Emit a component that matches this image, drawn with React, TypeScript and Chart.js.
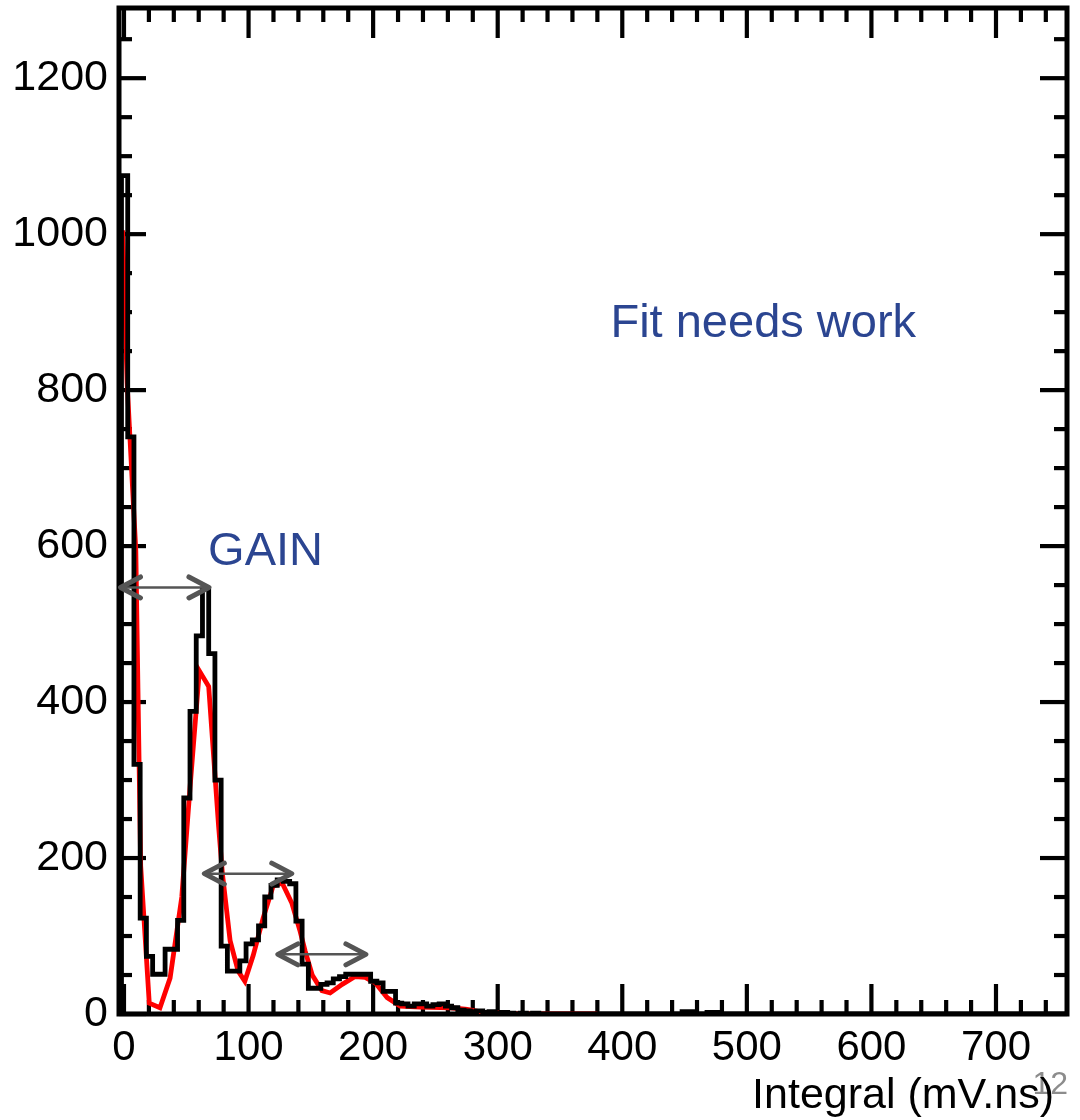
import { useEffect, useRef } from 'react';
import { Chart, registerables } from 'chart.js';

Chart.register(...registerables);

// ---------- data ----------
const BIN_START = -2;
const BIN_WIDTH = 5;
const counts: number[] = [
  1075, 740, 320, 123, 74, 51, 51, 83, 83, 120,
  277, 388, 485, 545, 462, 300, 87, 55, 55, 68,
  90, 95, 113, 150, 165, 172, 170, 167, 119, 64,
  33, 33, 38, 40, 45, 48, 51, 51, 51, 51,
  42, 40, 29, 29, 14, 13, 10, 13, 13, 10,
  12, 13, 10, 8, 5, 4, 3, 4, 2, 3,
  1, 2, 1, 0, 1, 0, 1, 0, 0, 0,
  0, 0, 0, 0, 0, 0, 0, 0, 0, 0,
  0, 0, 0, 0, 0, 0, 0, 0, 0, 0,
  3, 3, 0, 0, 2, 2, 0, 0, 0, 0,
  0, 0, 0, 0, 0, 0, 0, 0, 0, 0,
  0, 0, 0, 0, 0, 0, 0, 0, 0, 0,
  0, 0, 0, 0, 0, 0, 0, 0, 0, 0,
  0, 0, 0, 0, 0, 0, 0, 0, 0, 0,
  0, 0, 0, 0, 0, 0, 0, 0, 0, 0,
  0, 0,
];

const fitX = [-1, 2.5, 9.5, 13.4, 20.3, 28.9, 37.0, 46.4, 53.0, 60.5, 68.0, 76.0, 79.0, 85.2, 91.6, 97.0, 103.7, 111.7, 119.7, 127.0, 134.8, 141.4, 145.4, 151.1, 158.9, 165.5, 175.2, 185.6, 193.6, 201.7, 211.3, 221.8, 237.9, 262.0, 275.6, 288.5, 315.8, 380.0];
const fitY = [1005, 810, 594, 190, 14, 8, 46, 150, 290, 440, 420, 240, 180, 94, 55, 42, 75, 123, 164, 168, 142, 106, 81, 50, 30, 27, 38, 48, 47, 40, 21, 10, 9, 8, 6, 2, 0.5, 0];

const X_MIN = -4;
const X_MAX = 757;
const Y_MIN = 0;
const Y_MAX = 1290;
const X_MAJOR = 100;
const X_MINOR = 20;
const Y_MAJOR = 200;
const Y_MINOR = 50;

// gain arrows: [xFrom, xTo, y] in data units
const arrowsX1 = [-3.6, 63.7, 122.7];
const arrowsX2 = [69, 135.5, 195];
const arrowsY = [547, 180, 76.5];

const xTitle = 'Integral (mV.ns)';
const gainLabel = { text: 'GAIN', x: 67.5, y: 576 };
const noteLabel = { text: 'Fit needs work', x: 390.5, y: 868 };
const pageNumber = '12';

const FONT = '"Liberation Sans", Arial, Helvetica, sans-serif';
const BLUE = '#2B4591';

function buildHistPoints() {
  const pts: { x: number; y: number }[] = [];
  pts.push({ x: BIN_START, y: 0 });
  counts.forEach((c, i) => pts.push({ x: BIN_START + i * BIN_WIDTH, y: c }));
  pts.push({ x: BIN_START + counts.length * BIN_WIDTH, y: 0 });
  return pts;
}

const frameTicks = {
  id: 'frameTicks',
  beforeDatasetsDraw(chart: any) {
    const { ctx, chartArea: a, scales } = chart;
    const xs = scales.x;
    const ys = scales.y;
    ctx.save();
    ctx.strokeStyle = '#000';
    ctx.lineCap = 'butt';
    ctx.lineWidth = 4.2;
    const seg = (x1: number, y1: number, x2: number, y2: number) => {
      ctx.beginPath();
      ctx.moveTo(x1, y1);
      ctx.lineTo(x2, y2);
      ctx.stroke();
    };
    for (let v = 0; v <= X_MAX; v += X_MINOR) {
      const px = xs.getPixelForValue(v);
      const len = v % X_MAJOR === 0 ? 30 : 14;
      seg(px, a.bottom, px, a.bottom - len);
      seg(px, a.top, px, a.top + len);
    }
    for (let v = 0; v <= Y_MAX; v += Y_MINOR) {
      const py = ys.getPixelForValue(v);
      const len = v % Y_MAJOR === 0 ? 27 : 13;
      seg(a.left, py, a.left + len, py);
      seg(a.right, py, a.right - len, py);
    }
    ctx.lineWidth = 5;
    ctx.strokeRect(a.left, a.top, a.right - a.left, a.bottom - a.top);
    ctx.restore();
  },
  afterDatasetsDraw(chart: any) {
    const { ctx, chartArea: a, scales } = chart;
    const xs = scales.x;
    const ys = scales.y;
    ctx.save();
    // arrows
    ctx.strokeStyle = '#555555';
    for (let i = 0; i < arrowsY.length; i++) {
      const x1 = xs.getPixelForValue(arrowsX1[i]);
      const x2 = xs.getPixelForValue(arrowsX2[i]);
      const y = ys.getPixelForValue(arrowsY[i]);
      ctx.lineWidth = 2.5;
      ctx.lineCap = 'butt';
      ctx.beginPath();
      ctx.moveTo(x1 + 2, y);
      ctx.lineTo(x2 - 2, y);
      ctx.stroke();
      ctx.lineWidth = 5;
      ctx.lineCap = 'round';
      ctx.lineJoin = 'round';
      ctx.beginPath();
      ctx.moveTo(x1 + 21, y - 10.5);
      ctx.lineTo(x1 + 1, y);
      ctx.lineTo(x1 + 21, y + 10.5);
      ctx.moveTo(x2 - 21, y - 10.5);
      ctx.lineTo(x2 - 1, y);
      ctx.lineTo(x2 - 21, y + 10.5);
      ctx.stroke();
    }
    // labels
    ctx.fillStyle = BLUE;
    ctx.textBaseline = 'alphabetic';
    ctx.textAlign = 'left';
    ctx.font = `47px ${FONT}`;
    ctx.fillText(gainLabel.text, xs.getPixelForValue(gainLabel.x), ys.getPixelForValue(gainLabel.y));
    ctx.font = `47px ${FONT}`;
    ctx.fillText(noteLabel.text, xs.getPixelForValue(noteLabel.x), ys.getPixelForValue(noteLabel.y));
    // page number
    ctx.fillStyle = '#8c8c8c';
    ctx.font = `32px ${FONT}`;
    ctx.textAlign = 'right';
    ctx.fillText(pageNumber, 1068, 1094);
    // axis title
    ctx.fillStyle = '#000';
    ctx.font = `43px ${FONT}`;
    ctx.textAlign = 'right';
    ctx.fillText(xTitle, a.right - 13, 1108);
    ctx.restore();
  },
};

export default function App() {
  const ref = useRef<HTMLCanvasElement | null>(null);

  useEffect(() => {
    if (!ref.current) return;
    const chart = new Chart(ref.current, {
      type: 'line',
      data: {
        datasets: [
          {
            label: 'hist',
            data: buildHistPoints(),
            borderColor: '#000000',
            borderWidth: 4.8,
            pointRadius: 0,
            stepped: 'before',
            fill: false,
            clip: 0,
          } as any,
          {
            label: 'fit',
            data: fitX.map((x, i) => ({ x, y: fitY[i] })),
            borderColor: '#ff0000',
            borderWidth: 4.8,
            pointRadius: 0,
            tension: 0,
            fill: false,
            clip: 0,
          } as any,
        ],
      },
      options: {
        animation: false,
        responsive: false,
        devicePixelRatio: 1,
        parsing: false,
        layout: { padding: { left: 0, top: 8, right: 13, bottom: 0 } },
        plugins: { legend: { display: false }, tooltip: { enabled: false } },
        scales: {
          x: {
            type: 'linear',
            min: X_MIN,
            max: X_MAX,
            grid: { display: false },
            border: { display: false },
            ticks: {
              stepSize: X_MAJOR,
              includeBounds: false,
              padding: 1,
              color: '#000',
              maxRotation: 0,
              font: { family: FONT, size: 42 },
              callback: (v: any) => String(v),
            },
            afterFit: (s: any) => {
              s.height = 106;
              s.paddingLeft = 0;
              s.paddingRight = 0;
            },
          },
          y: {
            type: 'linear',
            min: Y_MIN,
            max: Y_MAX,
            grid: { display: false },
            border: { display: false },
            ticks: {
              stepSize: Y_MAJOR,
              includeBounds: false,
              padding: 3,
              color: '#000',
              font: { family: FONT, size: 43 },
              callback: (v: any) => String(v),
            },
            afterFit: (s: any) => {
              s.width = 119;
              s.paddingTop = 0;
              s.paddingBottom = 0;
            },
          },
        },
      },
      plugins: [frameTicks],
    });
    return () => chart.destroy();
  }, []);

  return (
    <div style={{ position: 'absolute', left: 0, top: 0, width: 1080, height: 1120, background: '#fff' }}>
      <canvas ref={ref} width={1080} height={1120} style={{ width: 1080, height: 1120 }} />
    </div>
  );
}
